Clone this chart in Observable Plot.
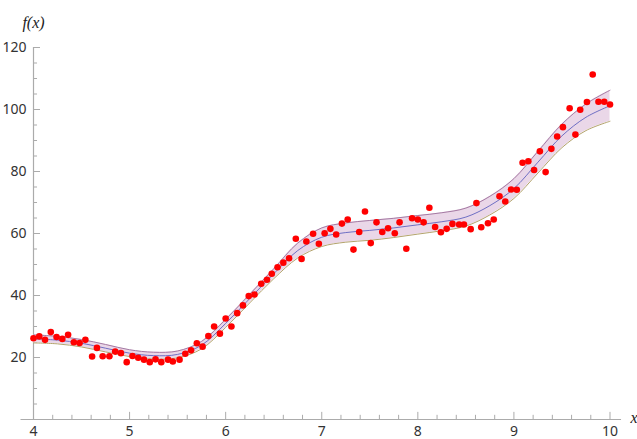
<!DOCTYPE html>
<html>
<head>
<meta charset="utf-8">
<script src="https://cdn.jsdelivr.net/npm/d3@7"></script>
<script src="https://cdn.jsdelivr.net/npm/@observablehq/plot@0.6"></script>
<style>
  html, body { margin: 0; padding: 0; background: #fff; }
  #chart svg { display: block; }
</style>
</head>
<body>
<div id="chart"></div>
<script>
// Observed data points
const pointX = [4.00,4.06,4.12,4.18,4.24,4.30,4.36,4.42,4.48,4.54,
  4.61,4.66,4.72,4.79,4.85,4.91,4.97,5.03,5.09,5.15,
  5.21,5.27,5.33,5.40,5.45,5.52,5.58,5.64,5.70,5.76,
  5.82,5.88,5.94,6.00,6.06,6.12,6.18,6.24,6.30,6.37,
  6.43,6.48,6.54,6.60,6.66,6.73,6.79,6.84,6.91,6.97,
  7.03,7.09,7.15,7.21,7.27,7.33,7.39,7.45,7.51,7.57,
  7.63,7.69,7.76,7.81,7.88,7.94,8.00,8.06,8.12,8.18,
  8.24,8.30,8.36,8.43,8.48,8.55,8.61,8.66,8.73,8.79,
  8.85,8.91,8.97,9.03,9.09,9.15,9.21,9.27,9.33,9.39,
  9.45,9.51,9.58,9.64,9.69,9.76,9.82,9.88,9.94,10.00];
const pointY = [26.2,26.8,25.7,28.2,26.6,26.0,27.3,24.9,24.7,25.7,
  20.3,23.1,20.4,20.4,21.9,21.4,18.5,20.5,19.9,19.3,
  18.5,19.4,18.5,19.3,18.7,19.3,21.2,22.3,24.6,23.5,
  26.9,30.0,27.7,32.6,30.0,34.3,36.8,39.8,40.3,43.8,
  45.1,47.0,49.1,50.6,52.0,58.3,51.8,57.4,59.9,56.7,
  60.1,61.5,59.7,63.2,64.5,54.8,60.5,67.1,56.9,63.6,
  60.5,61.7,60.1,63.6,55.1,64.9,64.5,63.6,68.3,62.1,
  60.4,61.5,63.1,62.9,62.9,61.4,69.8,62.0,63.3,64.5,
  72.0,70.3,74.2,74.1,82.8,83.3,80.5,86.5,79.8,87.3,
  91.3,94.3,100.4,91.9,99.9,102.4,111.3,102.5,102.5,101.6];

// Fitted curve and its band
const curveX    = [4.00,4.25,4.50,4.75,5.00,5.25,5.50,5.75,6.00,6.25,6.50,6.75,7.00,7.25,7.50,7.75,8.00,8.25,8.50,8.75,9.00,9.25,9.50,9.75,10.00];
const curveMid  = [26.0,25.6,24.6,23.0,21.4,20.6,21.0,24.0,31.0,39.0,47.0,54.5,58.8,60.3,61.0,61.8,62.8,63.8,65.3,69.0,74.5,83.0,91.5,97.5,101.2];
const curveLow  = [24.7,24.4,23.4,21.8,20.3,19.5,19.9,22.8,29.7,37.6,45.4,52.1,55.8,57.2,57.8,58.7,59.8,60.9,62.4,66.0,71.3,79.5,87.7,93.2,96.2];
const curveHigh = [27.3,26.8,25.8,24.2,22.5,21.7,22.1,25.2,32.3,40.4,48.6,56.9,61.8,63.4,64.2,64.9,65.8,66.7,68.2,72.0,77.7,86.5,95.3,101.8,106.2];

// Axis ticks
const xTickLabels = [4,5,6,7,8,9,10];
const xMinorTicks = [4.2,4.4,4.6,4.8,5.2,5.4,5.6,5.8,6.2,6.4,6.6,6.8,7.2,7.4,7.6,7.8,8.2,8.4,8.6,8.8,9.2,9.4,9.6,9.8];
const yTickLabels = [20,40,60,80,100,120];
const yMinorTicks = [5,10,15,25,30,35,45,50,55,65,70,75,85,90,95,105,110,115];

const points = pointX.map((x, i) => ({x, y: pointY[i]}));
const band = curveX.map((x, i) => ({x, mid: curveMid[i], lo: curveLow[i], hi: curveHigh[i]}));

// tick lengths expressed in data units (x: ~96.15 px/unit, y: ~3.1 px/unit)
const axisColor = "#ababab";
const curve = "catmull-rom";

const chart = Plot.plot({
  width: 637,
  height: 439,
  marginLeft: 33,
  marginRight: 27.5,
  marginTop: 47,
  marginBottom: 20,
  style: {background: "#fff", fontFamily: "'Noto Sans', sans-serif", fontSize: "14px"},
  x: {domain: [4, 10]},
  y: {domain: [0, 120]},
  marks: [
    // axis lines
    Plot.ruleY([0], {x1: 3.87, x2: 10.12, stroke: axisColor, strokeWidth: 1.2}),
    Plot.ruleX([4], {y1: 0, y2: 120, stroke: axisColor, strokeWidth: 1.2}),
    // x ticks (pointing up)
    Plot.ruleX(xTickLabels, {y1: 0, y2: 2.3, stroke: axisColor}),
    Plot.ruleX(xMinorTicks, {y1: 0, y2: 1.35, stroke: axisColor}),
    // y ticks (pointing right)
    Plot.ruleY(yTickLabels, {x1: 4, x2: 4.073, stroke: axisColor}),
    Plot.ruleY(yMinorTicks, {x1: 4, x2: 4.042, stroke: axisColor}),
    // tick labels
    Plot.axisX(xTickLabels, {tickSize: 0, tickPadding: 7, label: null, fill: "#333", fontSize: 14}),
    Plot.axisY(yTickLabels, {tickSize: 0, tickPadding: 7, label: null, fill: "#333", fontSize: 14}),
    // band
    Plot.areaY(band, {x: "x", y1: "lo", y2: "hi", fill: "#ead7e8", curve}),
    Plot.lineY(band, {x: "x", y: "hi", stroke: "#a57aa3", strokeWidth: 1, curve}),
    Plot.lineY(band, {x: "x", y: "lo", stroke: "#b3a36c", strokeWidth: 1, curve}),
    Plot.lineY(band, {x: "x", y: "mid", stroke: "#6f6fc4", strokeWidth: 1, curve}),
    // data points
    Plot.dot(points, {x: "x", y: "y", r: 3.3, fill: "#ff0000", stroke: "none"}),
    // axis titles
    Plot.text(["f(x)"], {x: 4, y: 120, dx: 0, dy: -25, text: d => d, fontFamily: "'Liberation Serif', serif", fontStyle: "italic", fontSize: 16, fill: "#222"}),
    Plot.text(["x"], {x: 10, y: 0, dx: 24, dy: -2, text: d => d, fontFamily: "'Liberation Serif', serif", fontStyle: "italic", fontSize: 16, fill: "#222"})
  ]
});
document.getElementById("chart").appendChild(chart);
</script>
</body>
</html>
